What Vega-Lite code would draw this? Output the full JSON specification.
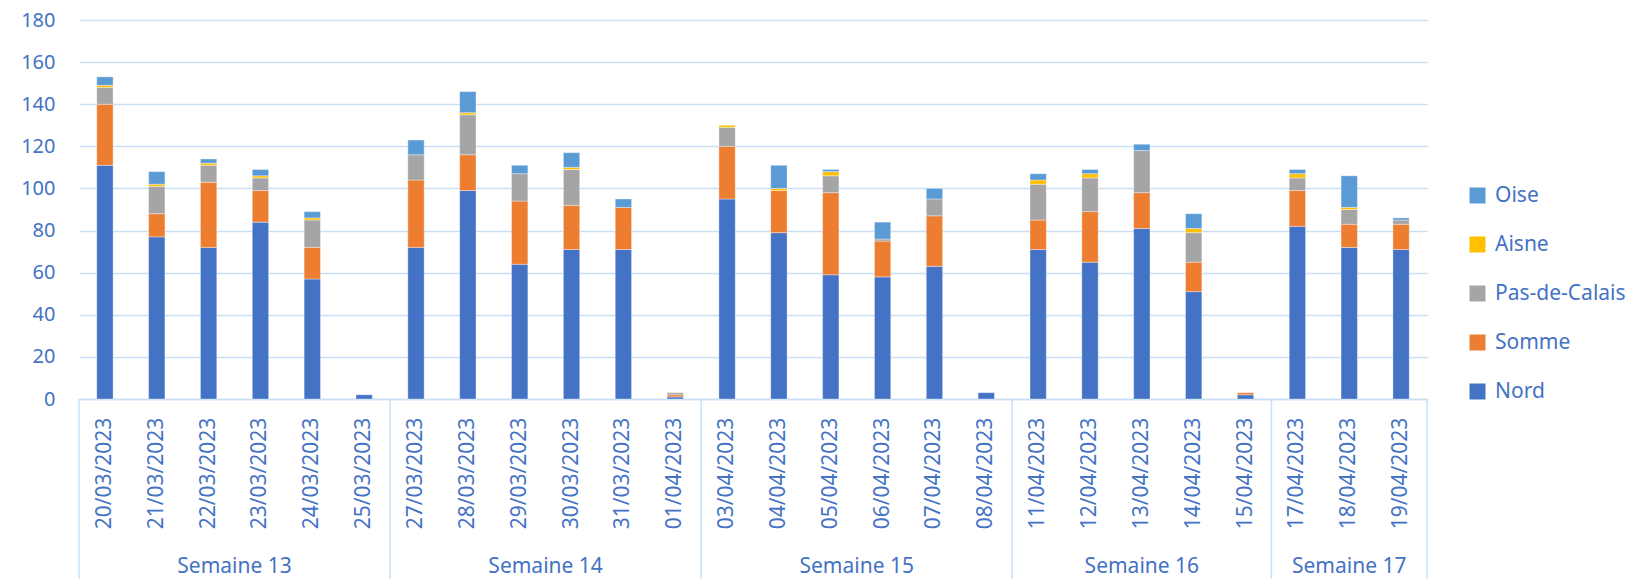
{
  "$schema": "https://vega.github.io/schema/vega-lite/v6.json",
  "description": "Cas par jour et par département, groupés par semaine",
  "padding": {"left": 20, "top": 10, "right": 0, "bottom": 0},
  "config": {
    "font": "Noto Sans",
    "view": {"stroke": null},
    "axis": {"labelColor": "#4472C4", "labelFont": "Noto Sans"},
    "legend": {"labelColor": "#4472C4"},
    "scale": {"bandPaddingInner": 0.685, "bandPaddingOuter": 0.3425}
  },
  "datasets": {
    "jours": [
      {"date": "20/03/2023", "Nord": 111, "Somme": 29, "Pas-de-Calais": 8, "Aisne": 1, "Oise": 4},
      {"date": "21/03/2023", "Nord": 77, "Somme": 11, "Pas-de-Calais": 13, "Aisne": 1, "Oise": 6},
      {"date": "22/03/2023", "Nord": 72, "Somme": 31, "Pas-de-Calais": 8, "Aisne": 1, "Oise": 2},
      {"date": "23/03/2023", "Nord": 84, "Somme": 15, "Pas-de-Calais": 6, "Aisne": 1, "Oise": 3},
      {"date": "24/03/2023", "Nord": 57, "Somme": 15, "Pas-de-Calais": 13, "Aisne": 1, "Oise": 3},
      {"date": "25/03/2023", "Nord": 2, "Somme": 0, "Pas-de-Calais": 0, "Aisne": 0, "Oise": 0},
      {"date": "27/03/2023", "Nord": 72, "Somme": 32, "Pas-de-Calais": 12, "Aisne": 0, "Oise": 7},
      {"date": "28/03/2023", "Nord": 99, "Somme": 17, "Pas-de-Calais": 19, "Aisne": 1, "Oise": 10},
      {"date": "29/03/2023", "Nord": 64, "Somme": 30, "Pas-de-Calais": 13, "Aisne": 0, "Oise": 4},
      {"date": "30/03/2023", "Nord": 71, "Somme": 21, "Pas-de-Calais": 17, "Aisne": 1, "Oise": 7},
      {"date": "31/03/2023", "Nord": 71, "Somme": 20, "Pas-de-Calais": 0, "Aisne": 0, "Oise": 4},
      {"date": "01/04/2023", "Nord": 1, "Somme": 1, "Pas-de-Calais": 1, "Aisne": 0, "Oise": 0},
      {"date": "03/04/2023", "Nord": 95, "Somme": 25, "Pas-de-Calais": 9, "Aisne": 1, "Oise": 0},
      {"date": "04/04/2023", "Nord": 79, "Somme": 20, "Pas-de-Calais": 0, "Aisne": 1, "Oise": 11},
      {"date": "05/04/2023", "Nord": 59, "Somme": 39, "Pas-de-Calais": 8, "Aisne": 2, "Oise": 1},
      {"date": "06/04/2023", "Nord": 58, "Somme": 17, "Pas-de-Calais": 1, "Aisne": 0, "Oise": 8},
      {"date": "07/04/2023", "Nord": 63, "Somme": 24, "Pas-de-Calais": 8, "Aisne": 0, "Oise": 5},
      {"date": "08/04/2023", "Nord": 3, "Somme": 0, "Pas-de-Calais": 0, "Aisne": 0, "Oise": 0},
      {"date": "11/04/2023", "Nord": 71, "Somme": 14, "Pas-de-Calais": 17, "Aisne": 2, "Oise": 3},
      {"date": "12/04/2023", "Nord": 65, "Somme": 24, "Pas-de-Calais": 16, "Aisne": 2, "Oise": 2},
      {"date": "13/04/2023", "Nord": 81, "Somme": 17, "Pas-de-Calais": 20, "Aisne": 0, "Oise": 3},
      {"date": "14/04/2023", "Nord": 51, "Somme": 14, "Pas-de-Calais": 14, "Aisne": 2, "Oise": 7},
      {"date": "15/04/2023", "Nord": 2, "Somme": 1, "Pas-de-Calais": 0, "Aisne": 0, "Oise": 0},
      {"date": "17/04/2023", "Nord": 82, "Somme": 17, "Pas-de-Calais": 6, "Aisne": 2, "Oise": 2},
      {"date": "18/04/2023", "Nord": 72, "Somme": 11, "Pas-de-Calais": 7, "Aisne": 1, "Oise": 15},
      {"date": "19/04/2023", "Nord": 71, "Somme": 12, "Pas-de-Calais": 2, "Aisne": 0, "Oise": 1}
    ],
    "semaines": [
      {"semaine": "Semaine 13", "debut": "20/03/2023", "fin": "25/03/2023", "milieu": "23/03/2023", "jours": 6},
      {"semaine": "Semaine 14", "debut": "27/03/2023", "fin": "01/04/2023", "milieu": "30/03/2023", "jours": 6},
      {"semaine": "Semaine 15", "debut": "03/04/2023", "fin": "08/04/2023", "milieu": "06/04/2023", "jours": 6},
      {"semaine": "Semaine 16", "debut": "11/04/2023", "fin": "15/04/2023", "milieu": "13/04/2023", "jours": 5},
      {"semaine": "Semaine 17", "debut": "17/04/2023", "fin": "19/04/2023", "milieu": "18/04/2023", "jours": 3}
    ]
  },
  "spacing": 0,
  "bounds": "flush",
  "vconcat": [
    {
      "width": 1348,
      "height": 379,
      "data": {"name": "jours"},
      "transform": [
        {"fold": ["Nord", "Somme", "Pas-de-Calais", "Aisne", "Oise"], "as": ["dept", "cas"]},
        {"window": [{"op": "row_number", "as": "rang"}], "groupby": ["date"]},
        {"filter": "datum.cas > 0"}
      ],
      "mark": {"type": "bar", "stroke": "white", "strokeWidth": 0.6, "strokeOpacity": 0.6},
      "encoding": {
        "x": {
          "field": "date",
          "type": "ordinal",
          "sort": null,
          "axis": {
            "title": null,
            "labels": false,
            "ticks": false,
            "domainColor": "#C9DFF6",
            "domainWidth": 1.5
          }
        },
        "y": {
          "field": "cas",
          "type": "quantitative",
          "stack": "zero",
          "scale": {"domain": [0, 180]},
          "axis": {
            "title": null,
            "values": [0, 20, 40, 60, 80, 100, 120, 140, 160, 180],
            "domain": false,
            "ticks": false,
            "labelFontSize": 20,
            "labelPadding": 24,
            "gridColor": "#C9DFF6",
            "gridWidth": 1.5
          }
        },
        "color": {
          "field": "dept",
          "type": "nominal",
          "scale": {
            "domain": ["Oise", "Aisne", "Pas-de-Calais", "Somme", "Nord"],
            "range": ["#5B9BD5", "#FFC000", "#A5A5A5", "#ED7D31", "#4472C4"]
          },
          "legend": {
            "title": null,
            "orient": "none",
            "legendX": 1388,
            "legendY": 165,
            "symbolType": "square",
            "symbolSize": 256,
            "symbolStrokeWidth": 0,
            "labelFontSize": 21,
            "labelOffset": 7,
            "rowPadding": 27
          }
        },
        "order": {"field": "rang", "sort": "ascending"}
      }
    },
    {
      "width": 1348,
      "height": 149,
      "layer": [
        {
          "data": {"name": "semaines"},
          "mark": {"type": "rule", "color": "#C9DFF6", "strokeWidth": 1.5},
          "encoding": {
            "x": {"field": "debut", "type": "ordinal", "bandPosition": 0, "axis": null,
                  "scale": {"paddingInner": 0, "paddingOuter": 0, "domain": ["20/03/2023", "21/03/2023", "22/03/2023", "23/03/2023", "24/03/2023", "25/03/2023", "27/03/2023", "28/03/2023", "29/03/2023", "30/03/2023", "31/03/2023", "01/04/2023", "03/04/2023", "04/04/2023", "05/04/2023", "06/04/2023", "07/04/2023", "08/04/2023", "11/04/2023", "12/04/2023", "13/04/2023", "14/04/2023", "15/04/2023", "17/04/2023", "18/04/2023", "19/04/2023"]}}
          }
        },
        {
          "data": {"name": "semaines"},
          "transform": [{"filter": "datum.semaine == 'Semaine 17'"}],
          "mark": {"type": "rule", "color": "#C9DFF6", "strokeWidth": 1.5},
          "encoding": {
            "x": {"field": "fin", "type": "ordinal", "bandPosition": 1, "axis": null,
                  "scale": {"paddingInner": 0, "paddingOuter": 0, "domain": ["20/03/2023", "21/03/2023", "22/03/2023", "23/03/2023", "24/03/2023", "25/03/2023", "27/03/2023", "28/03/2023", "29/03/2023", "30/03/2023", "31/03/2023", "01/04/2023", "03/04/2023", "04/04/2023", "05/04/2023", "06/04/2023", "07/04/2023", "08/04/2023", "11/04/2023", "12/04/2023", "13/04/2023", "14/04/2023", "15/04/2023", "17/04/2023", "18/04/2023", "19/04/2023"]}}
          }
        },
        {
          "data": {"name": "jours"},
          "mark": {"type": "text", "angle": 270, "align": "center", "baseline": "middle", "fontSize": 21, "color": "#4472C4"},
          "encoding": {
            "x": {"field": "date", "type": "ordinal", "axis": null,
                  "scale": {"paddingInner": 0, "paddingOuter": 0, "domain": ["20/03/2023", "21/03/2023", "22/03/2023", "23/03/2023", "24/03/2023", "25/03/2023", "27/03/2023", "28/03/2023", "29/03/2023", "30/03/2023", "31/03/2023", "01/04/2023", "03/04/2023", "04/04/2023", "05/04/2023", "06/04/2023", "07/04/2023", "08/04/2023", "11/04/2023", "12/04/2023", "13/04/2023", "14/04/2023", "15/04/2023", "17/04/2023", "18/04/2023", "19/04/2023"]}},
            "text": {"field": "date"}
          }
        }
      ]
    },
    {
      "width": 1348,
      "height": 38,
      "layer": [
        {
          "data": {"name": "semaines"},
          "mark": {"type": "rule", "color": "#C9DFF6", "strokeWidth": 1.5},
          "encoding": {
            "x": {"field": "debut", "type": "ordinal", "bandPosition": 0, "axis": null,
                  "scale": {"paddingInner": 0, "paddingOuter": 0, "domain": ["20/03/2023", "21/03/2023", "22/03/2023", "23/03/2023", "24/03/2023", "25/03/2023", "27/03/2023", "28/03/2023", "29/03/2023", "30/03/2023", "31/03/2023", "01/04/2023", "03/04/2023", "04/04/2023", "05/04/2023", "06/04/2023", "07/04/2023", "08/04/2023", "11/04/2023", "12/04/2023", "13/04/2023", "14/04/2023", "15/04/2023", "17/04/2023", "18/04/2023", "19/04/2023"]}}
          }
        },
        {
          "data": {"name": "semaines"},
          "transform": [{"filter": "datum.semaine == 'Semaine 17'"}],
          "mark": {"type": "rule", "color": "#C9DFF6", "strokeWidth": 1.5},
          "encoding": {
            "x": {"field": "fin", "type": "ordinal", "bandPosition": 1, "axis": null,
                  "scale": {"paddingInner": 0, "paddingOuter": 0, "domain": ["20/03/2023", "21/03/2023", "22/03/2023", "23/03/2023", "24/03/2023", "25/03/2023", "27/03/2023", "28/03/2023", "29/03/2023", "30/03/2023", "31/03/2023", "01/04/2023", "03/04/2023", "04/04/2023", "05/04/2023", "06/04/2023", "07/04/2023", "08/04/2023", "11/04/2023", "12/04/2023", "13/04/2023", "14/04/2023", "15/04/2023", "17/04/2023", "18/04/2023", "19/04/2023"]}}
          }
        },
        {
          "data": {"name": "semaines"},
          "transform": [{"filter": "datum.jours % 2 == 0"}],
          "mark": {"type": "text", "align": "center", "baseline": "middle", "fontSize": 21, "color": "#4472C4"},
          "encoding": {
            "x": {"field": "milieu", "type": "ordinal", "bandPosition": 0, "axis": null,
                  "scale": {"paddingInner": 0, "paddingOuter": 0, "domain": ["20/03/2023", "21/03/2023", "22/03/2023", "23/03/2023", "24/03/2023", "25/03/2023", "27/03/2023", "28/03/2023", "29/03/2023", "30/03/2023", "31/03/2023", "01/04/2023", "03/04/2023", "04/04/2023", "05/04/2023", "06/04/2023", "07/04/2023", "08/04/2023", "11/04/2023", "12/04/2023", "13/04/2023", "14/04/2023", "15/04/2023", "17/04/2023", "18/04/2023", "19/04/2023"]}},
            "text": {"field": "semaine"}
          }
        },
        {
          "data": {"name": "semaines"},
          "transform": [{"filter": "datum.jours % 2 == 1"}],
          "mark": {"type": "text", "align": "center", "baseline": "middle", "fontSize": 21, "color": "#4472C4"},
          "encoding": {
            "x": {"field": "milieu", "type": "ordinal", "bandPosition": 0.5, "axis": null,
                  "scale": {"paddingInner": 0, "paddingOuter": 0, "domain": ["20/03/2023", "21/03/2023", "22/03/2023", "23/03/2023", "24/03/2023", "25/03/2023", "27/03/2023", "28/03/2023", "29/03/2023", "30/03/2023", "31/03/2023", "01/04/2023", "03/04/2023", "04/04/2023", "05/04/2023", "06/04/2023", "07/04/2023", "08/04/2023", "11/04/2023", "12/04/2023", "13/04/2023", "14/04/2023", "15/04/2023", "17/04/2023", "18/04/2023", "19/04/2023"]}},
            "text": {"field": "semaine"}
          }
        }
      ]
    }
  ]
}
